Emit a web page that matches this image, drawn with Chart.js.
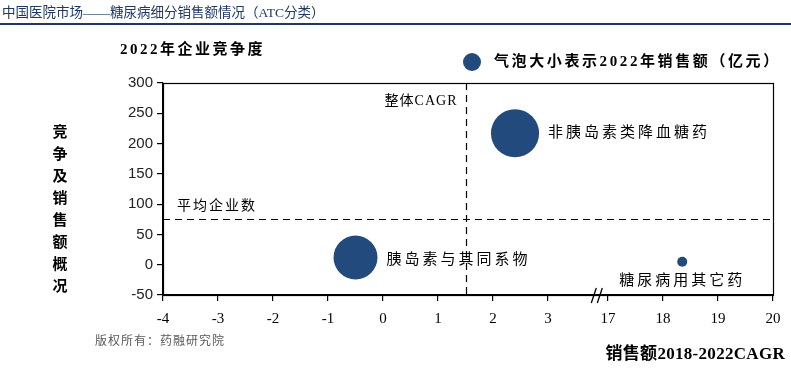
<!DOCTYPE html>
<html>
<head>
<meta charset="utf-8">
<script src="https://cdn.jsdelivr.net/npm/chart.js@4/dist/chart.umd.min.js"></script>
<style>
  html, body { margin: 0; padding: 0; background: #fff; }
  #chart { display: block; }
</style>
</head>
<body>
<canvas id="chart" width="791" height="369"></canvas>
<script>
// data
const categories = ['胰岛素与其同系物', '非胰岛素类降血糖药', '糖尿病用其它药'];
const cagr = [-0.5, 2.4, 18.35];          // 销售额2018-2022CAGR (x)
const competitors = [12, 217, 5];          // 2022年企业竞争度 (y)
const sales2022 = [250, 300, 13];          // 2022年销售额（亿元）-> bubble size
const xTickLabels = [-4, -3, -2, -1, 0, 1, 2, 3, 17, 18, 19, 20];
const yMin = -50, yMax = 300, yStep = 50;
const overallCagr = 1.5;     // 整体CAGR
const avgCompanies = 75;     // 平均企业数

// broken x axis: 3 .. 17 squeezed into a small gap
const BREAK_LOW = 3, BREAK_HIGH = 17, BREAK_GAP = 1.09;
const mapX = v => v >= BREAK_HIGH ? v - BREAK_HIGH + BREAK_LOW + BREAK_GAP : v;

const BLUE = '#234A7D';
const CJK = "'Noto Sans CJK SC'";
const SERIF = "'Liberation Serif', 'Noto Sans CJK SC'";

function txt(ctx, s, x, y, font, color, align, spacing) {
    ctx.save();
    ctx.font = font;
    ctx.fillStyle = color;
    ctx.textAlign = align || 'left';
    ctx.textBaseline = 'middle';
    ctx.letterSpacing = (spacing || 0) + 'px';
    ctx.fillText(s, x, y);
    ctx.restore();
}

const decor = {
    id: 'decor',
    beforeDatasetsDraw(chart) {
        const { ctx, chartArea: a, scales: { x, y } } = chart;
        ctx.save();
        ctx.strokeStyle = '#000';
        ctx.lineWidth = 1.2;
        ctx.setLineDash([7, 5]);
        const vx = Math.round(x.getPixelForValue(mapX(overallCagr))) + 0.5;
        const hy = Math.round(y.getPixelForValue(avgCompanies)) + 0.5;
        ctx.beginPath();
        ctx.moveTo(vx, a.top); ctx.lineTo(vx, a.bottom);
        ctx.moveTo(a.left, hy); ctx.lineTo(a.right, hy);
        ctx.stroke();
        ctx.restore();
        txt(ctx, '整体CAGR', vx - 9, a.top + 18, '14px ' + SERIF, '#000', 'right', 1);
        txt(ctx, '平均企业数', a.left + 14, hy - 15, '14px ' + CJK, '#000', 'left', 2);
    },
    afterDraw(chart) {
        const { ctx, chartArea: a, scales: { x } } = chart;
        // frame
        ctx.save();
        ctx.strokeStyle = '#000';
        ctx.lineWidth = 1.2;
        ctx.strokeRect(a.left + 0.5, a.top + 0.5, a.right - a.left, a.bottom - a.top);
        // axis break marks
        const bx = x.getPixelForValue(BREAK_LOW + BREAK_GAP * 0.83);
        ctx.lineWidth = 1.3;
        ctx.beginPath();
        for (const dx of [-4, 2]) {
            ctx.moveTo(bx + dx - 2.5, a.bottom + 8);
            ctx.lineTo(bx + dx + 2.5, a.bottom - 7);
        }
        ctx.stroke();
        // header
        ctx.strokeStyle = '#1F3864';
        ctx.lineWidth = 2;
        ctx.beginPath();
        ctx.moveTo(0, 24); ctx.lineTo(791, 24);
        ctx.stroke();
        ctx.restore();
        txt(ctx, '中国医院市场——糖尿病细分销售额情况（ATC分类）', 2, 13, '13.5px ' + SERIF, '#1F3864', 'left', 0);

        // titles
        txt(ctx, '2022年企业竞争度', 120, 50, 'bold 15px ' + SERIF, '#000', 'left', 2.5);
        ctx.save();
        ctx.fillStyle = BLUE;
        ctx.beginPath();
        ctx.arc(472, 62, 9, 0, Math.PI * 2);
        ctx.fill();
        ctx.restore();
        txt(ctx, '气泡大小表示2022年销售额（亿元）', 494, 62, 'bold 15px ' + SERIF, '#000', 'left', 2.6);
        const yTitle = '竞争及销售额概况';
        [...yTitle].forEach((c, i) => txt(ctx, c, 60, 131 + i * 22, 'bold 15px ' + CJK, '#000', 'center', 0));
        txt(ctx, '版权所有：药融研究院', 95, 340, '12px ' + CJK, '#595959', 'left', 1);
        txt(ctx, '销售额2018-2022CAGR', 785, 355, 'bold 17px ' + SERIF, '#000', 'right', 0.3);

        // bubble labels
        const pts = chart.getDatasetMeta(0).data;
        const f = '15px ' + CJK;
        txt(ctx, categories[0], pts[0].x + pts[0].options.radius + 9, pts[0].y + 1, f, '#000', 'left', 3);
        txt(ctx, categories[1], pts[1].x + pts[1].options.radius + 9, pts[1].y - 2, f, '#000', 'left', 3);
        txt(ctx, categories[2], pts[2].x, pts[2].y + 18, f, '#000', 'center', 3);
    }
};

new Chart(document.getElementById('chart').getContext('2d'), {
    type: 'bubble',
    data: {
        datasets: [{
            label: '2022年销售额（亿元）',
            data: categories.map((c, i) => ({ x: mapX(cagr[i]), y: competitors[i], r: Math.sqrt(sales2022[i]) * 1.39 })),
            backgroundColor: BLUE,
            borderColor: BLUE,
            borderWidth: 0
        }]
    },
    options: {
        responsive: false,
        animation: false,
        layout: { autoPadding: false, padding: { top: 83, right: 18, left: 0, bottom: 0 } },
        plugins: { legend: { display: false }, tooltip: { enabled: false } },
        scales: {
            x: {
                type: 'linear',
                min: mapX(xTickLabels[0]),
                max: mapX(xTickLabels[xTickLabels.length - 1]),
                afterBuildTicks: s => { s.ticks = xTickLabels.map(v => ({ value: mapX(v), label: String(v) })); },
                afterFit: s => { s.height = 74; },
                grid: { drawOnChartArea: false, tickLength: 6, color: '#000', lineWidth: 1.2 },
                border: { color: '#000', width: 1.2 },
                ticks: {
                    autoSkip: false, maxRotation: 0, padding: 9, color: '#000',
                    font: { family: 'Liberation Serif', size: 15 },
                    callback: (v, i) => String(xTickLabels[i])
                }
            },
            y: {
                min: yMin, max: yMax,
                afterFit: s => { s.width = 163; },
                grid: { drawOnChartArea: false, tickLength: 6, color: '#000', lineWidth: 1.2 },
                border: { color: '#000', width: 1.2 },
                ticks: {
                    stepSize: yStep, padding: 4, color: '#222',
                    font: { family: 'Liberation Sans', size: 15 }
                }
            }
        }
    },
    plugins: [decor]
});
</script>
</body>
</html>
